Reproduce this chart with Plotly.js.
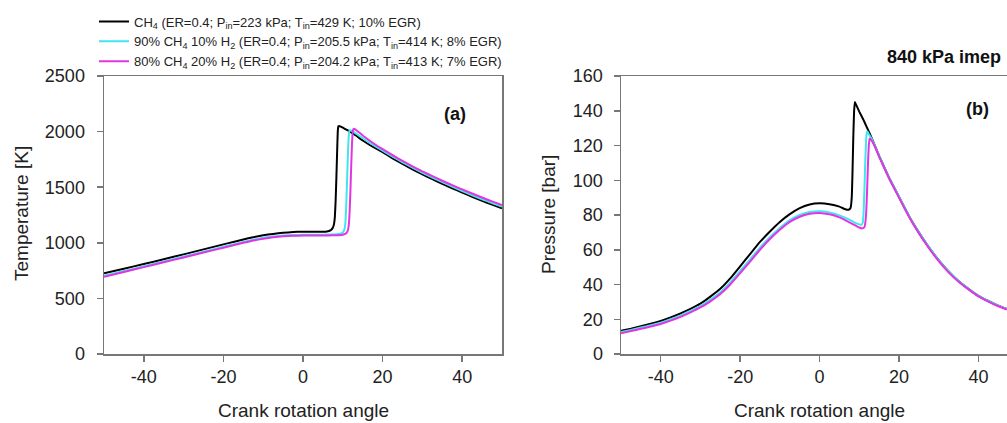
<!DOCTYPE html>
<html>
<head>
<meta charset="utf-8">
<script src="https://cdn.plot.ly/plotly-3.0.1.min.js"></script>
<style>html,body{margin:0;padding:0;background:#fff}#chart{width:1007px;height:423px}</style>
</head>
<body>
<div id="chart"></div>
<script>
// ---- Data ----
const seriesNames = [
  "CH<sub>4</sub> (ER=0.4; P<sub>in</sub>=223 kPa; T<sub>in</sub>=429 K; 10% EGR)",
  "90% CH<sub>4</sub> 10% H<sub>2</sub> (ER=0.4; P<sub>in</sub>=205.5 kPa; T<sub>in</sub>=414 K; 8% EGR)",
  "80% CH<sub>4</sub> 20% H<sub>2</sub> (ER=0.4; P<sub>in</sub>=204.2 kPa; T<sub>in</sub>=413 K; 7% EGR)"
];

// Panel (a): temperature [K]
const angleT_CH4 = [-50,-45,-40,-35,-30,-25,-20,-17.5,-15,-12.5,-10,-7.5,-5,-2.5,0,2.5,5,6,6.5,7,7.5,7.8,8,8.2,8.4,8.6,8.75,8.9,9.1,9.5,10,11,12,13.5,15,17.5,20,22.5,25,27.5,30,32.5,35,37.5,40,42.5,45,47.5,50];
const temp_CH4   = [726,767,809,852,896,941,986,1008,1030,1050,1067,1080,1090,1097,1100,1100,1100,1102,1106,1114,1135,1170,1230,1380,1600,1850,2010,2048,2050,2044,2035,2016,1996,1960,1920,1865,1815,1760,1710,1660,1615,1572,1530,1490,1452,1414,1378,1343,1310];

const angleT_H10 = [-50,-45,-40,-35,-30,-25,-20,-17.5,-15,-12.5,-10,-7.5,-5,-2.5,0,2.5,5,7.5,9,9.6,10,10.3,10.6,10.8,11,11.2,11.4,11.6,11.8,12.2,13,13.5,15,17.5,20,22.5,25,27.5,30,32.5,35,37.5,40,42.5,45,47.5,50];
const temp_H10   = [703,746,789,833,876,920,964,986,1008,1028,1045,1057,1065,1070,1072,1073,1073,1075,1079,1084,1092,1110,1160,1280,1480,1700,1900,2000,2012,2008,1990,1978,1940,1882,1828,1775,1724,1676,1630,1587,1545,1505,1466,1428,1392,1358,1325];

const angleT_H20 = [-50,-45,-40,-35,-30,-25,-20,-17.5,-15,-12.5,-10,-7.5,-5,-2.5,0,2.5,5,7.5,9,10,10.6,11,11.3,11.5,11.7,11.9,12.1,12.3,12.5,12.7,13,13.5,15,17.5,20,22.5,25,27.5,30,32.5,35,37.5,40,42.5,45,47.5,50];
const temp_H20   = [695,738,781,825,868,912,956,978,1000,1020,1037,1050,1058,1063,1065,1066,1066,1067,1069,1073,1080,1092,1115,1160,1270,1450,1680,1880,2000,2025,2022,2010,1965,1900,1842,1788,1737,1688,1642,1600,1558,1518,1480,1443,1407,1372,1340];

// Panel (b): pressure [bar]
const angleP_CH4 = [-50,-47.5,-45,-42.5,-40,-37.5,-35,-32.5,-30,-27.5,-25,-22.5,-20,-17.5,-15,-12.5,-10,-7.5,-5,-2.5,0,2.5,5,6.5,7.3,7.8,8.1,8.3,8.5,8.7,8.9,9.2,10,11,12,13,14,15,16,17.5,20,22.5,25,27.5,30,32.5,35,37.5,40,42.5,45,47.2];
const pres_CH4   = [13.4,14.6,16,17.4,19,21,23.3,26,29,33,37.5,43.5,50.5,57.5,64.5,70.5,76,80.5,84,86,86.7,86.2,84.8,83.3,83,84,90,105,125,140,145,143.5,139.5,135,130,125,119.5,114,109,101.5,90.5,79.5,70,61.5,54,47.5,42,37.5,33.5,30.5,27.8,25.8];

const angleP_H10 = [-50,-47.5,-45,-42.5,-40,-37.5,-35,-32.5,-30,-27.5,-25,-22.5,-20,-17.5,-15,-12.5,-10,-7.5,-5,-2.5,0,2.5,5,7.5,9,10,10.6,10.9,11.1,11.3,11.5,11.7,11.9,12.1,12.4,13,14,15,16,17.5,20,22.5,25,27.5,30,32.5,35,37.5,40,42.5,45,47.2];
const pres_H10   = [12.6,13.8,15.2,16.5,18,20,22.2,24.8,27.7,31.3,35.6,41.2,47.8,54.5,61.2,67.2,72.5,77,80,81.7,82.2,81.5,79.8,77.3,75.5,74.6,74.5,76,82,95,110,122,127.5,128,126.5,124.5,119.5,114,109,101.5,90.5,79.5,70,61.5,54,47.5,42,37.5,33.5,30.5,27.8,25.8];

const angleP_H20 = [-50,-47.5,-45,-42.5,-40,-37.5,-35,-32.5,-30,-27.5,-25,-22.5,-20,-17.5,-15,-12.5,-10,-7.5,-5,-2.5,0,2.5,5,7.5,9,10,10.8,11.3,11.6,11.8,12,12.2,12.4,12.6,12.9,14,15,16,17.5,20,22.5,25,27.5,30,32.5,35,37.5,40,42.5,45,47.2];
const pres_H20   = [12,13.2,14.5,15.8,17.3,19.2,21.4,24,26.8,30.3,34.5,40,46.5,53.2,60,66.2,71.5,76,79,80.7,81.2,80.4,78.6,75.8,74,72.8,72.3,73,77,84,96,110,120,124,123.5,119,113.5,108.5,101,90,79,69.5,61,53.5,47,41.6,37.2,33.2,30.2,27.5,25.5];

const colors = ["#000000", "#3fe6f0", "#e234e2"];

const xTicks = [-40,-20,0,20,40];
const tTicks = [0,500,1000,1500,2000,2500];
const pTicks = [0,20,40,60,80,100,120,140,160];

// ---- Traces ----
function line(x, y, i, xa, ya, showLegend) {
  return {
    type: "scatter", mode: "lines", x: x, y: y,
    xaxis: xa, yaxis: ya, name: seriesNames[i],
    line: {color: colors[i], width: 2, shape: "spline", smoothing: 0.3},
    showlegend: showLegend, legendgroup: "g" + i
  };
}
const data = [
  line(angleT_CH4, temp_CH4, 0, "x", "y", true),
  line(angleT_H10, temp_H10, 1, "x", "y", true),
  line(angleT_H20, temp_H20, 2, "x", "y", true),
  line(angleP_CH4, pres_CH4, 0, "x2", "y2", false),
  line(angleP_H10, pres_H10, 1, "x2", "y2", false),
  line(angleP_H20, pres_H20, 2, "x2", "y2", false)
];

const axCol = "#777777";
const tickFont = {family: "Liberation Sans, Arial, sans-serif", size: 18, color: "#222"};
function xax(domain, range, anchor, mirror) {
  return {domain: domain, range: range, anchor: anchor, showgrid: false, zeroline: false,
    showline: true, linecolor: axCol, linewidth: 1.5, mirror: mirror,
    ticks: "outside", ticklen: 6, tickwidth: 1.5, tickcolor: axCol,
    tickmode: "array", tickvals: xTicks, ticktext: xTicks.map(String), tickfont: tickFont};
}
function yax(domain, range, anchor, vals, mirror, standoff) {
  return {domain: domain, range: range, anchor: anchor, showgrid: false, zeroline: false,
    showline: true, linecolor: axCol, linewidth: 1.5, mirror: mirror,
    ticks: "outside", ticklen: 6, tickwidth: 1.5, tickcolor: axCol,
    tickmode: "array", tickvals: vals, ticktext: vals.map(String), tickfont: tickFont,
    ticklabelstandoff: standoff};
}

const W = 1007, H = 423;
const yDom = [1 - 354 / H, 1 - 76 / H];
const titleFont = {family: "Liberation Sans, Arial, sans-serif", size: 19, color: "#222"};
const boldFont = {family: "Liberation Sans, Arial, sans-serif", size: 18, color: "#111"};
function ann(text, xref, x, yPx, font, extra) {
  return Object.assign({text: text, xref: xref, yref: "paper", x: x, y: 1 - yPx / H,
    xanchor: "center", yanchor: "middle", showarrow: false, font: font}, extra || {});
}

const layout = {
  width: W, height: H,
  margin: {l: 0, r: 0, t: 0, b: 0},
  paper_bgcolor: "#fff", plot_bgcolor: "#fff",
  font: {family: "Liberation Sans, Arial, sans-serif", color: "#222"},
  xaxis: xax([104 / W, 502 / W], [-50, 50], "y", true),
  yaxis: yax(yDom, [0, 2500], "x", tTicks, true, 8),
  xaxis2: xax([621 / W, 1], [-50, 47.2], "y2", true),
  yaxis2: yax(yDom, [0, 160], "x2", pTicks, false, 7),
  showlegend: true,
  legend: {x: 94 / W, y: 1 - 6.5 / H, xanchor: "left", yanchor: "top",
    bgcolor: "rgba(0,0,0,0)", font: {family: "Liberation Sans, Arial, sans-serif", size: 13, color: "#222"},
    tracegroupgap: 0, itemwidth: 30},
  annotations: [
    ann("<b>(a)</b>", "paper", 455 / W, 114, boldFont),
    ann("<b>(b)</b>", "paper", 977 / W, 109, boldFont),
    ann("<b>840 kPa imep</b>", "paper", 885 / W, 57, boldFont, {xanchor: "left"}),
    ann("Temperature [K]", "paper", 22 / W, 214, titleFont, {textangle: -90}),
    ann("Pressure [bar]", "paper", 549 / W, 215, titleFont, {textangle: -90}),
    ann("Crank rotation angle", "x", 0, 410, titleFont),
    ann("Crank rotation angle", "x2", 0, 410, titleFont)
  ]
};

Plotly.newPlot("chart", data, layout, {displayModeBar: false, staticPlot: true});
</script>
</body>
</html>
